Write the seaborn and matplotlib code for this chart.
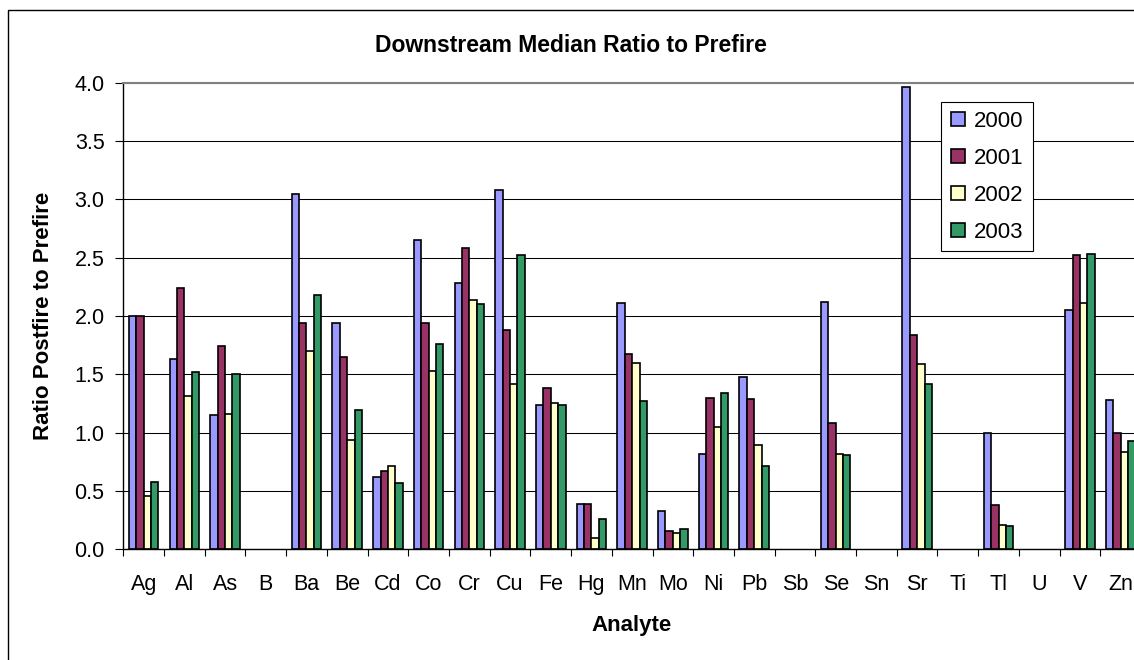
import numpy as np
import pandas as pd
import matplotlib
matplotlib.use("Agg")
import matplotlib.pyplot as plt
from matplotlib.patches import Rectangle
from matplotlib.lines import Line2D
import seaborn as sns

# Analytes along the x axis
analytes = ["Ag", "Al", "As", "B", "Ba", "Be", "Cd", "Co", "Cr", "Cu", "Fe", "Hg",
            "Mn", "Mo", "Ni", "Pb", "Sb", "Se", "Sn", "Sr", "Ti", "Tl", "U", "V", "Zn"]
years = ["2000", "2001", "2002", "2003"]

# Median postfire/prefire ratios (NaN = no data)
nan = np.nan
ratio_2000 = [2.00, 1.63, 1.15, nan, 3.05, 1.94, 0.62, 2.65, 2.28, 3.08, 1.24, 0.39,
              2.11, 0.33, 0.82, 1.48, nan, 2.12, nan, 3.96, nan, 1.00, nan, 2.05, 1.28]
ratio_2001 = [2.00, 2.24, 1.74, nan, 1.94, 1.65, 0.67, 1.94, 2.58, 1.88, 1.38, 0.39,
              1.67, 0.16, 1.30, 1.29, nan, 1.08, nan, 1.84, nan, 0.38, nan, 2.52, 1.00]
ratio_2002 = [0.46, 1.31, 1.16, nan, 1.70, 0.94, 0.71, 1.53, 2.14, 1.42, 1.25, 0.10,
              1.60, 0.14, 1.05, 0.89, nan, 0.82, nan, 1.59, nan, 0.21, nan, 2.11, 0.83]
ratio_2003 = [0.58, 1.52, 1.50, nan, 2.18, 1.19, 0.57, 1.76, 2.10, 2.52, 1.24, 0.26,
              1.27, 0.17, 1.34, 0.71, nan, 0.81, nan, 1.42, nan, 0.20, nan, 2.53, 0.93]

y_ticks = [0.0, 0.5, 1.0, 1.5, 2.0, 2.5, 3.0, 3.5, 4.0]

colors = {"2000": "#9999FF", "2001": "#993366", "2002": "#FFFFCC", "2003": "#339966"}

frames = []
for yr, vals in zip(years, [ratio_2000, ratio_2001, ratio_2002, ratio_2003]):
    frames.append(pd.DataFrame({"Analyte": analytes, "Year": yr, "Ratio": vals}))
df = pd.concat(frames, ignore_index=True).dropna()

W, H = 1134, 660
fig = plt.figure(figsize=(W / 100, H / 100), dpi=100)
fig.patch.set_facecolor("white")

# chart border (open to the right and bottom edges)
fig.patches.append(Rectangle((7.5 / W, -0.1), 1.2, (H - 9.5) / H + 0.1,
                             transform=fig.transFigure, fill=False,
                             edgecolor="black", linewidth=1.0))

left, right, top, bottom = 123.3, 1141.0, 82.7, 549.3
ax = fig.add_axes([left / W, (H - bottom) / H, (right - left) / W, (bottom - top) / H])

font = "Liberation Sans"
plt.rcParams["font.family"] = [font, "DejaVu Sans"]

sns.barplot(data=df, x="Analyte", y="Ratio", hue="Year", order=analytes,
            hue_order=years, palette=colors, width=4 / 5.5, gap=0,
            edgecolor="black", linewidth=1.2, saturation=1, errorbar=None,
            legend=False, ax=ax)

ax.set_xlim(-0.5, len(analytes) - 0.5)
ax.set_ylim(0, 4.0)
ax.set_yticks(y_ticks)
ax.set_yticklabels([f"{v:.1f}" for v in y_ticks], fontsize=15.5, fontfamily=font)
ax.set_xticks(range(len(analytes)))
ax.set_xticklabels(analytes, fontsize=15.5, fontfamily=font)
ax.set_xticks(np.arange(-0.5, len(analytes), 1.0), minor=True)
ax.tick_params(axis="x", which="major", length=0, pad=18)
ax.tick_params(axis="x", which="minor", length=5, width=0.8, direction="out", color="black")
ax.tick_params(axis="y", length=5.5, width=0.8, pad=8, color="black")

ax.grid(axis="y", color="black", linewidth=0.75)
ax.set_axisbelow(True)
for s in ["left", "bottom"]:
    ax.spines[s].set_color("black")
    ax.spines[s].set_linewidth(1.0)
ax.spines["top"].set_color("#808080")
ax.spines["top"].set_linewidth(1.5)
ax.spines["right"].set_visible(False)

ax.set_xlabel("")
ax.set_ylabel("")
fig.text(44 / W, 1 - 316 / H, "Ratio Postfire to Prefire", rotation=90,
         ha="center", va="center", fontsize=16, fontweight="bold", fontfamily=font)
fig.text(632 / W, 1 - 625 / H, "Analyte", ha="center", va="center",
         fontsize=16, fontweight="bold", fontfamily=font)
fig.text(571 / W, 1 - 45 / H, "Downstream Median Ratio to Prefire", ha="center",
         va="center", fontsize=16.5, fontweight="bold", fontfamily=font)

handles = [Line2D([], [], marker="s", linestyle="", markersize=10,
                  markerfacecolor=colors[y], markeredgecolor="black",
                  markeredgewidth=1.2) for y in years]
leg = ax.legend(handles, years, loc="upper left",
                bbox_to_anchor=((940.7 - left) / (right - left), (bottom - 101.7) / (bottom - top)),
                frameon=True, fancybox=False, edgecolor="black", framealpha=1,
                prop={"family": font, "size": 16}, labelspacing=0.72,
                handlelength=0.8, handletextpad=0.3, borderpad=0.4, borderaxespad=0)
leg.get_frame().set_linewidth(0.8)

fig.savefig("out.png", dpi=100)
